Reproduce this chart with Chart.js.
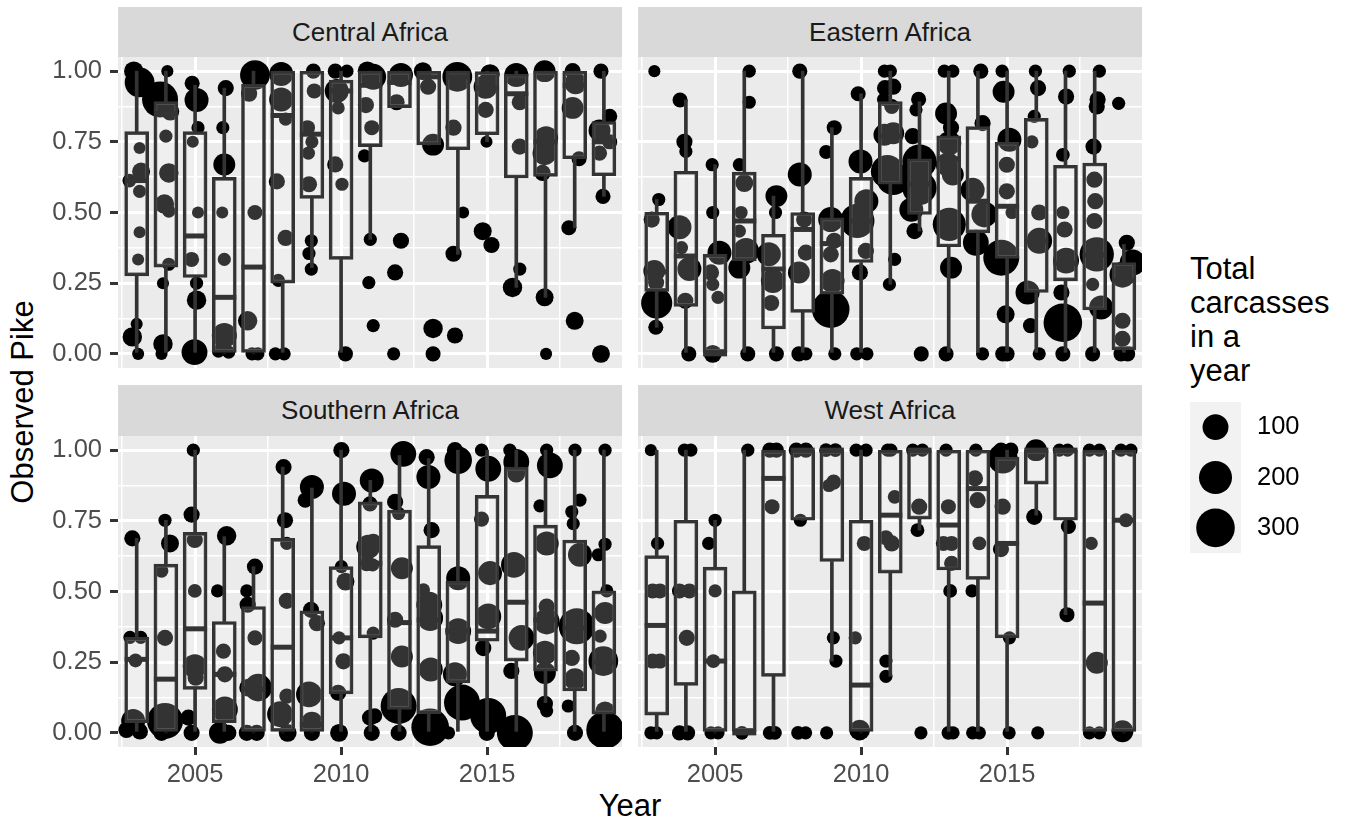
<!DOCTYPE html>
<html>
<head>
<meta charset="utf-8">
<script src="https://cdn.jsdelivr.net/npm/chart.js@4.4.1/dist/chart.umd.min.js"></script>
<style>
  html, body { margin: 0; padding: 0; background: #ffffff; }
  body { width: 1354px; height: 825px; position: relative; overflow: hidden; font-family: "Liberation Sans", Arial, Helvetica, sans-serif; }
  canvas { position: absolute; }
  .strip { position: absolute; background: #D9D9D9; color: #1A1A1A; font-size: 26px; display: flex; align-items: center; justify-content: center; }
  .title { position: absolute; color: #000; font-size: 31px; text-align: center; white-space: nowrap; }
  #legendTitle { position: absolute; left: 1190px; top: 252px; font-size: 31px; line-height: 34px; color: #000; }
</style>
</head>
<body>
<div class="strip" id="s0" style="left:118px;top:7px;width:504px;height:50px;"></div>
<div class="strip" id="s1" style="left:638px;top:7px;width:504px;height:50px;"></div>
<div class="strip" id="s2" style="left:118px;top:385px;width:504px;height:51px;"></div>
<div class="strip" id="s3" style="left:638px;top:385px;width:504px;height:51px;"></div>
<div class="title" id="yTitle" style="left:-177px;top:384px;width:400px;height:36px;line-height:36px;transform:rotate(-90deg);"></div>
<div class="title" id="xTitle" style="left:430px;top:788px;width:400px;height:36px;line-height:36px;"></div>
<div id="legendTitle"></div>

<canvas id="c0" width="612" height="371" style="left:40px;top:27px;"></canvas>
<canvas id="c1" width="564" height="371" style="left:608px;top:27px;"></canvas>
<canvas id="c2" width="612" height="391" style="left:40px;top:406px;"></canvas>
<canvas id="c3" width="564" height="391" style="left:608px;top:406px;"></canvas>
<canvas id="cLegend" width="190" height="231" style="left:1160px;top:362px;"></canvas>

<script>
// ---------------- data ----------------
const years = [2003,2004,2005,2006,2007,2008,2009,2010,2011,2012,2013,2014,2015,2016,2017,2018,2019];
const regionNames = ['Central Africa','Eastern Africa','Southern Africa','West Africa'];
const xTitle = 'Year';
const yTitle = 'Observed Pike';
const legendTitleLines = ['Total','carcasses','in a','year'];
const legendValues = [100, 200, 300];
const sizeDomain = [1, 300];

const xMin = 2002.36, xMax = 2019.62;
const yMin = -0.05, yMax = 1.05;
const xTickValues = [2002.5, 2005, 2007.5, 2010, 2012.5, 2015, 2017.5];
const xLabelValues = [2005, 2010, 2015];
const yTickValues = [0, 0.125, 0.25, 0.375, 0.5, 0.625, 0.75, 0.875, 1];
const yLabelValues = [0, 0.25, 0.5, 0.75, 1];

// box stats per year: [lower whisker, Q1, median, Q3, upper whisker]
const centralBox = [
  [0,0.276,0.613,0.786,1],[0,0.307,0.85,0.892,1],[0,0.27,0.417,0.786,0.95],[0,0,0.2,0.624,0.94],
  [0,0,0.307,0.953,1],[0,0.25,0.843,1,1],[0.305,0.55,0.777,1,1],[0,0.334,0.93,0.968,1],
  [0.405,0.733,0.95,1,1],[0.871,0.871,0.96,1,1],[0.739,0.739,0.98,1,1],[0.352,0.722,0.98,1,1],
  [0.75,0.775,0.94,0.998,1],[0.235,0.622,0.92,0.99,1],[0.2,0.628,0.75,1,1],[0.446,0.69,0.95,1,1],
  [0.557,0.63,0.75,0.822,1]
];
const easternBox = [
  [0.094,0.221,0.29,0.501,0.546],[0,0.168,0.346,0.646,0.898],[0,0,0,0.352,0.669],[0,0.329,0.47,0.643,1],
  [0,0.088,0.3,0.423,0.558],[0,0.147,0.44,0.5,1],[0,0.211,0.39,0.481,0.8],[0,0.323,0.47,0.624,0.92],
  [0.246,0.6,0.77,0.892,1],[0.434,0.493,0.6,0.69,0.892],[0,0.378,0.69,0.771,1],[0,0.428,0.54,0.804,1],
  [0,0.338,0.522,0.749,1],[0,0.217,0.4,0.833,1],[0,0.258,0.32,0.667,1],[0,0.155,0.35,0.675,1],
  [0,0.014,0.26,0.323,0.387]
];
const southernBox = [
  [0,0.036,0.26,0.338,0.688],[0,0,0.19,0.597,0.752],[0,0.154,0.368,0.709,1],[0,0.036,0.207,0.394,0.694],
  [0,0,0.155,0.447,0.588],[0,0,0.303,0.688,0.94],[0,0,0.03,0.432,0.866],[0,0.138,0.336,0.588,1],
  [0,0.336,0.6,0.817,0.893],[0,0.083,0.39,0.788,0.981],[0,0.068,0.4,0.662,0.97],[0,0.177,0.36,0.537,1],
  [0,0.324,0.36,0.84,1],[0,0.254,0.462,0.94,1],[0.107,0.218,0.4,0.735,1],[0,0.148,0.37,0.682,1],
  [0,0.066,0.25,0.502,1]
];
const westBox = [
  [0,0.063,0.38,0.627,1],[0,0.168,0.502,0.752,1],[0,0,0.254,0.586,0.752],[0,0,0,0.502,1],
  [0,0.2,0.9,1,1],[0.752,0.752,1,1,1],[0.254,0.606,1,1,1],[0,0,0.169,0.752,1],
  [0.2,0.565,0.77,1,1],[0.717,0.756,1,1,1],[0,0.576,0.735,1,1],[0,0.543,0.864,1,1],
  [0,0.336,0.67,0.975,1],[0.77,0.88,1,1,1],[0.418,0.752,1,1,1],[0,0,0.459,1,1],
  [0,0,0.752,1,1]
];

// jittered observations: [year (jittered), observed pike, total carcasses]
const centralPoints = [
  [2002.9,1,40],[2003.1,0.96,150],[2003.1,0.728,5],[2003.15,0.645,30],[2002.75,0.613,10],[2003.1,0.575,8],[2003.1,0.43,5],[2003.05,0.334,5],[2003,0.106,5],[2002.85,0.06,40],[2003.05,0,5],
  [2004.05,1,5],[2003.8,0.9,250],[2004.15,0.857,30],[2004,0.77,8],[2004.1,0.64,40],[2003.95,0.53,40],[2004.1,0.505,8],[2004.1,0.317,8],[2003.9,0.25,5],[2003.9,0.035,40],[2003.85,0,5],
  [2004.9,0.957,15],[2005.05,0.898,80],[2005.1,0.8,8],[2004.92,0.75,5],[2005.1,0.5,5],[2004.88,0.334,15],[2005.05,0.25,8],[2005.05,0.19,40],[2004.98,0.006,100],
  [2006.05,0.94,20],[2005.95,0.8,8],[2006,0.67,60],[2005.93,0.5,5],[2006,0.334,8],[2006,0.065,90],[2006.15,0.006,8],[2005.8,0.01,8],
  [2007.05,0.986,150],[2006.85,0.92,20],[2007.05,0.5,15],[2006.8,0.117,40],[2006.95,0,8],[2007.15,0,8],
  [2007.95,0.99,80],[2007.95,0.9,80],[2008.1,0.83,8],[2007.8,0.61,20],[2008.1,0.41,20],[2007.85,0.26,8],[2007.75,0,8],[2008.05,0,8],
  [2009.05,1,15],[2009.08,0.93,15],[2008.85,0.8,15],[2009,0.75,8],[2008.88,0.71,8],[2008.9,0.6,20],[2008.98,0.4,8],[2008.9,0.355,8],[2008.98,0.3,8],
  [2009.8,1,15],[2010.2,1,8],[2009.85,0.93,80],[2009.9,0.87,8],[2009.8,0.67,20],[2010.03,0.6,8],[2010.15,0,15],
  [2010.9,1,40],[2011.1,0.98,100],[2010.85,0.88,20],[2011.05,0.8,15],[2010.8,0.7,8],[2011,0.405,8],[2010.95,0.252,8],[2011.1,0.1,8],
  [2012.05,0.986,80],[2011.9,0.89,20],[2012.05,0.4,20],[2011.85,0.288,20],[2011.8,0,8],
  [2012.8,1,30],[2012.98,0.945,20],[2013.15,0.74,60],[2013.15,0.09,40],[2013.15,0,15],
  [2013.98,0.98,150],[2013.85,0.8,20],[2014.18,0.5,5],[2013.85,0.354,20],[2013.9,0.065,20],
  [2015.1,0.99,40],[2014.95,0.945,80],[2014.95,0.863,20],[2014.98,0.75,5],[2014.85,0.434,30],[2015.15,0.385,20],
  [2016,0.986,80],[2016.12,0.89,20],[2016.12,0.733,20],[2016.12,0.3,8],[2015.87,0.235,40],
  [2016.97,1,60],[2017.02,0.763,80],[2016.97,0.71,80],[2016.9,0.64,20],[2016.97,0.2,30],[2017.02,0,5],
  [2017.93,1,20],[2018.03,0.957,60],[2017.93,0.87,60],[2018.15,0.69,15],[2017.8,0.446,15],[2018,0.117,30],
  [2018.9,1,15],[2018.85,0.79,60],[2019.2,0.84,15],[2019.2,0.75,15],[2018.85,0.71,15],[2018.97,0.557,15],[2018.9,0,30]
];
const easternPoints = [
  [2002.92,1,5],[2003.07,0.546,8],[2002.83,0.475,20],[2002.92,0.293,60],[2002.98,0.252,20],[2003,0.18,170],[2002.97,0.094,15],
  [2003.8,0.898,15],[2003.95,0.75,20],[2004,0.716,8],[2003.78,0.448,80],[2003.85,0.376,8],[2004.12,0.3,80],[2003.98,0.188,20],[2004.1,0,15],
  [2004.9,0.669,8],[2004.92,0.5,8],[2005.15,0.358,80],[2004.86,0.288,20],[2004.92,0.246,8],[2005.1,0.2,8],[2004.92,0,30],
  [2006.17,1,8],[2006.17,0.89,8],[2005.83,0.669,8],[2006,0.604,30],[2005.89,0.5,8],[2005.83,0.434,8],[2006.06,0.364,100],[2005.83,0.305,60],[2006.12,0,15],
  [2007.1,0.558,60],[2007.07,0.5,8],[2006.84,0.352,80],[2006.98,0.258,80],[2006.92,0.18,20],[2007.1,0,15],
  [2007.9,1,15],[2007.9,0.634,80],[2008.05,0.475,20],[2008.11,0.358,20],[2007.87,0.288,60],[2007.87,0,15],[2008.11,0,8],
  [2009.08,0.8,15],[2008.8,0.714,10],[2008.96,0.475,90],[2009.08,0.4,20],[2008.96,0.352,20],[2009.02,0.258,80],[2008.96,0.158,280],[2009.1,0,8],
  [2009.9,0.92,15],[2009.98,0.68,80],[2010.18,0.54,80],[2009.87,0.47,220],[2010.16,0.364,20],[2009.96,0.288,20],[2009.85,0,8],[2010.2,0,8],
  [2010.8,1,8],[2011,1,8],[2011.1,0.945,20],[2010.82,0.94,20],[2010.77,0.9,8],[2011.05,0.875,15],[2010.8,0.775,60],[2011.1,0.78,60],[2010.9,0.645,200],[2011.1,0.62,200],[2011.15,0.334,8],[2010.97,0.246,8],
  [2011.97,0.9,15],[2011.88,0.863,8],[2011.77,0.77,20],[2012,0.68,220],[2012,0.587,220],[2011.72,0.51,80],[2011.83,0.434,20],[2012.06,0,15],
  [2012.85,1,8],[2013.14,1,8],[2012.91,0.85,60],[2013.08,0.8,20],[2013.02,0.745,80],[2012.97,0.67,80],[2013.14,0.634,60],[2013.02,0.458,200],[2013.08,0.305,60],[2012.91,0,15],
  [2014.1,1,15],[2014.16,0.816,20],[2013.82,0.58,80],[2014.22,0.493,100],[2013.93,0.393,100],[2014.16,0,8],
  [2014.83,1,8],[2014.88,0.927,60],[2015.08,0.757,80],[2014.99,0.669,20],[2014.99,0.575,20],[2015.17,0.5,8],[2014.8,0.34,250],[2014.95,0.14,30],[2014.85,0,15],[2015,0,15],
  [2015.97,1,8],[2016.06,0.94,20],[2015.93,0.84,8],[2015.85,0.75,8],[2016.1,0.5,20],[2016.1,0.4,100],[2015.7,0.217,80],[2015.8,0.1,15],[2016.1,0,8],
  [2017.13,1,8],[2017.02,0.91,20],[2016.91,0.704,10],[2016.91,0.5,8],[2016.97,0.44,20],[2017.02,0.33,100],[2016.86,0.217,20],[2016.91,0.11,300],[2016.91,0,15],
  [2018.16,1,8],[2018.1,0.9,20],[2018.07,0.875,20],[2017.96,0.733,20],[2017.99,0.616,20],[2018.02,0.54,20],[2017.99,0.47,20],[2018.07,0.352,220],[2017.93,0.246,8],[2018.22,0.164,80],[2017.93,0,15],
  [2018.82,0.886,8],[2019.1,0.393,20],[2019.3,0.323,100],[2018.95,0.28,100],[2018.95,0.117,20],[2018.95,0.053,20],[2018.9,0,15],[2019.13,0,15]
];
const southernPoints = [
  [2002.85,0.688,20],[2002.77,0.338,8],[2003.14,0.338,8],[2002.96,0.256,10],[2002.88,0.042,80],[2002.65,0.01,20],[2003.11,0.005,20],
  [2003.97,0.752,8],[2004.14,0.67,30],[2003.85,0.573,10],[2003.97,0.336,20],[2003.97,0.042,250],[2003.85,0,20],
  [2004.94,1,8],[2004.88,0.772,20],[2004.99,0.682,20],[2004.99,0.502,10],[2004.99,0.236,80],[2005.02,0.195,20],[2004.77,0.054,20],[2004.88,0,20],
  [2006.08,0.697,40],[2005.77,0.502,8],[2005.97,0.289,15],[2006.02,0.207,20],[2006.02,0.083,100],[2005.85,0,60],[2006.14,0,20],
  [2007.05,0.588,20],[2006.77,0.502,8],[2006.8,0.453,20],[2007.05,0.336,15],[2007.16,0.16,120],[2006.82,0.16,30],[2006.77,0,20],[2007.11,0,20],
  [2008.03,0.94,20],[2008.08,0.752,20],[2008.14,0.67,8],[2008.14,0.467,20],[2008.14,0.13,15],[2007.91,0.066,100],[2008.17,0,30],
  [2009,0.87,80],[2008.77,0.823,15],[2008.97,0.435,20],[2009.17,0.388,20],[2008.9,0.136,100],[2009,0.036,60],[2009,0,20],
  [2010.01,1,20],[2010.1,0.846,80],[2010.01,0.588,8],[2010.15,0.535,30],[2009.93,0.336,8],[2010.08,0.253,20],[2009.9,0.142,20],[2009.93,0,30],
  [2011.05,0.893,80],[2010.99,0.81,15],[2010.93,0.658,80],[2010.88,0.6,20],[2011.1,0.676,20],[2011.08,0.594,8],[2011.1,0.353,8],[2010.99,0.054,20],[2011.15,0.06,15],[2011.05,0,20],
  [2012.13,0.987,100],[2011.85,0.817,20],[2011.97,0.776,8],[2012.08,0.582,60],[2011.85,0.4,20],[2012.08,0.27,60],[2011.97,0.095,250],[2011.97,0,20],
  [2012.93,0.975,20],[2012.99,0.905,80],[2013.1,0.717,20],[2012.82,0.506,8],[2013.02,0.453,100],[2013.05,0.406,100],[2013.07,0.224,80],[2013.05,0.02,280],
  [2013.9,1,20],[2014.01,0.964,120],[2014.01,0.547,80],[2014.01,0.36,100],[2013.9,0.207,80],[2014.14,0.107,250],[2013.68,0,8],
  [2014.81,1,8],[2015.04,0.934,100],[2014.81,0.756,15],[2015.1,0.565,80],[2015.04,0.412,100],[2014.87,0.3,20],[2015.04,0.06,250],[2014.99,0,20],
  [2015.78,1,8],[2016,0.958,100],[2016,0.917,30],[2015.92,0.594,100],[2016.18,0.336,100],[2015.83,0.219,20],[2015.95,0,250],
  [2017.04,1,8],[2017.15,0.946,100],[2016.81,0.803,8],[2017.04,0.67,80],[2017.04,0.447,20],[2017.04,0.394,100],[2016.98,0.283,80],[2016.98,0.212,60],[2016.98,0.103,20],[2017.04,0.078,8],
  [2018.01,1,8],[2018.18,0.823,8],[2017.9,0.782,8],[2017.95,0.74,8],[2018.18,0.63,80],[2018.07,0.377,250],[2017.9,0.265,20],[2018.01,0.19,60],[2017.78,0.095,8],[2018.01,0,20],
  [2019.04,1,8],[2019.04,0.667,8],[2018.81,0.63,8],[2019.1,0.502,8],[2019.04,0.424,60],[2018.87,0.342,8],[2018.98,0.254,150],[2019.04,0.077,40],[2019.04,0.01,280]
];
const westPoints = [
  [2002.8,1,5],[2003.03,0.67,8],[2002.86,0.502,15],[2003.11,0.502,15],[2002.86,0.254,15],[2003.11,0.254,15],[2002.8,0,8],[2003,0,8],
  [2003.95,1,8],[2004.17,1,8],[2003.78,0.502,15],[2004.12,0.502,15],[2004.03,0.336,20],[2003.78,0,15],[2004.06,0,15],
  [2005,0.752,8],[2004.78,0.67,8],[2005,0.502,8],[2004.94,0.254,10],[2004.86,0,8],[2005.1,0,8],
  [2006.12,1,8],[2005.92,0,10],
  [2006.87,1,15],[2007.1,1,15],[2006.95,0.8,15],[2006.87,0,10],[2007.05,0,10],
  [2007.78,1,15],[2008.11,1,15],[2007.92,0.752,8],[2007.84,0,10],[2008.1,0,8],
  [2008.8,1,10],[2009.12,1,10],[2009.06,0.887,15],[2008.9,0.875,8],[2009.05,0.336,8],[2009.14,0.254,8],[2008.82,0,8],
  [2009.83,1,8],[2010.17,1,8],[2010.11,0.67,15],[2009.8,0.336,8],[2009.95,0.01,50],
  [2010.91,1,8],[2011.02,1,8],[2011.15,0.835,10],[2010.85,0.69,15],[2011.05,0.67,20],[2010.85,0.254,8],[2010.85,0.2,8],
  [2011.77,1,8],[2012.1,1,8],[2011.99,0.8,20],[2011.93,0.717,10],[2012.05,0,8],
  [2012.91,1,8],[2012.99,0.8,15],[2012.82,0.67,15],[2013.1,0.67,15],[2013.1,0.6,15],[2013.05,0.502,10],[2012.99,0,10],[2013.15,0,8],
  [2013.93,1,8],[2013.9,0.9,20],[2013.99,0.823,20],[2014.05,0.67,10],[2013.8,0.502,8],[2013.82,0,8],[2014.05,0,8],
  [2014.79,1,15],[2015.13,1,15],[2014.85,0.97,150],[2014.85,0.8,20],[2014.79,0.65,20],[2015.08,0.336,8],[2015.07,0,8],
  [2015.99,1,60],[2015.93,0.764,20],[2016.05,0,8],
  [2016.79,1,8],[2017.07,1,8],[2017.1,0.73,15],[2017.05,0.418,15],
  [2017.82,1,8],[2018.16,1,8],[2017.88,0.67,8],[2018.07,0.248,60],[2017.82,0,8],[2018.16,0,8],
  [2018.9,1,8],[2019.24,1,8],[2019.07,0.752,10],[2018.95,0.006,60]
];

// ---------------- styling / helpers ----------------
const FONT = '"Liberation Sans", Arial, Helvetica, sans-serif';
Chart.defaults.font.family = FONT;
Chart.defaults.animation = false;

function radiusFor(t) {
  const f = Math.sqrt(Math.max(0, (t - sizeDomain[0]) / (sizeDomain[1] - sizeDomain[0])));
  return 4.3 + 15 * f;
}

const panelBg = {
  id: 'panelBg',
  beforeDraw(chart, args, opts) {
    const a = chart.chartArea;
    const ctx = chart.ctx;
    ctx.save();
    ctx.fillStyle = opts.color || '#EBEBEB';
    ctx.fillRect(a.left, a.top, a.right - a.left, a.bottom - a.top);
    ctx.restore();
  }
};

function buildDatasets(box, pts) {
  const boxData = years.map((yr, i) => ({x: yr, y: [box[i][1], box[i][3]]}));
  const lowData = years.map((yr, i) => ({x: yr, y: [box[i][0], box[i][1]]}));
  const highData = years.map((yr, i) => ({x: yr, y: [box[i][3], box[i][4]]}));
  const medData = years.map((yr, i) => ({x: yr, y: box[i][2]}));
  const ptData = pts.map(p => ({x: p[0], y: p[1], t: p[2]}));
  return [
    {type: 'scatter', data: ptData, order: 4, clip: 0,
     pointRadius: c => (c.raw ? radiusFor(c.raw.t) : 4),
     pointBackgroundColor: '#000000', pointBorderWidth: 0, pointBorderColor: '#000000'},
    {type: 'bar', data: lowData, order: 3, grouped: false, barThickness: 3, clip: 0,
     backgroundColor: '#333333', borderWidth: 0},
    {type: 'bar', data: highData, order: 3, grouped: false, barThickness: 3, clip: 0,
     backgroundColor: '#333333', borderWidth: 0},
    {type: 'bar', data: boxData, order: 2, grouped: false, barThickness: 24, clip: 0,
     backgroundColor: 'rgba(255,255,255,0.2)', borderColor: '#333333', borderWidth: 3, borderSkipped: false},
    {type: 'scatter', data: medData, order: 1, clip: 0, pointStyle: 'line', pointRadius: 12,
     pointBorderColor: '#333333', pointBorderWidth: 5, borderColor: '#333333'}
  ];
}

function makePanel(canvasId, box, pts, showX, showY, padding) {
  const isMajorX = v => xLabelValues.includes(v);
  const isMajorY = v => yLabelValues.includes(v);
  return new Chart(document.getElementById(canvasId), {
    type: 'scatter',
    data: {datasets: buildDatasets(box, pts)},
    plugins: [panelBg],
    options: {
      responsive: false,
      devicePixelRatio: 1,
      events: [],
      layout: {padding: padding},
      plugins: {legend: {display: false}, tooltip: {enabled: false}, panelBg: {color: '#EBEBEB'}},
      scales: {
        x: {
          type: 'linear', min: xMin, max: xMax, offset: false, bounds: 'data',
          afterBuildTicks: s => { s.ticks = xTickValues.map(v => ({value: v})); },
          afterFit: s => { s.height = showX ? 50 : 0; },
          border: {display: false},
          grid: {
            offset: false, color: '#FFFFFF', drawTicks: showX, tickLength: 8,
            lineWidth: c => (c.tick && isMajorX(c.tick.value)) ? 3 : 1.5,
            tickColor: c => (c.tick && isMajorX(c.tick.value)) ? '#333333' : 'rgba(0,0,0,0)',
            tickWidth: 3
          },
          ticks: {
            display: showX, autoSkip: false, maxRotation: 0, minRotation: 0, padding: 5,
            color: '#4D4D4D', font: {size: 25.5, family: FONT},
            callback: v => isMajorX(v) ? String(v) : ''
          }
        },
        y: {
          type: 'linear', min: yMin, max: yMax, bounds: 'data',
          afterBuildTicks: s => { s.ticks = yTickValues.map(v => ({value: v})); },
          afterFit: s => { s.width = showY ? 78 : 0; },
          border: {display: false},
          grid: {
            color: '#FFFFFF', drawTicks: showY, tickLength: 8,
            lineWidth: c => (c.tick && isMajorY(c.tick.value)) ? 3 : 1.5,
            tickColor: c => (c.tick && isMajorY(c.tick.value)) ? '#333333' : 'rgba(0,0,0,0)',
            tickWidth: 3
          },
          ticks: {
            display: showY, autoSkip: false, padding: 8,
            color: '#4D4D4D', font: {size: 25.5, family: FONT},
            callback: v => isMajorY(v) ? v.toFixed(2) : ''
          }
        }
      }
    }
  });
}

makePanel('c0', centralBox, centralPoints, false, true, {top: 30, bottom: 30, left: 0, right: 30});
makePanel('c1', easternBox, easternPoints, false, false, {top: 30, bottom: 30, left: 30, right: 30});
makePanel('c2', southernBox, southernPoints, true, true, {top: 30, bottom: 0, left: 0, right: 30});
makePanel('c3', westBox, westPoints, true, false, {top: 30, bottom: 0, left: 30, right: 30});

// size legend
new Chart(document.getElementById('cLegend'), {
  type: 'scatter',
  data: {datasets: [{
    data: legendValues.map((v, i) => ({x: 0, y: i + 1, t: v})),
    pointRadius: c => (c.raw ? radiusFor(c.raw.t) : 4),
    pointBackgroundColor: '#000000', pointBorderWidth: 0, clip: false
  }]},
  plugins: [panelBg],
  options: {
    responsive: false, devicePixelRatio: 1, events: [],
    layout: {padding: {top: 40, bottom: 40, left: 30, right: 0}},
    plugins: {legend: {display: false}, tooltip: {enabled: false}, panelBg: {color: '#F2F2F2'}},
    scales: {
      x: {type: 'linear', min: -1, max: 1, display: false},
      y: {
        type: 'linear', min: 0.5, max: 3.5, reverse: true, position: 'right', bounds: 'data',
        afterBuildTicks: s => { s.ticks = legendValues.map((v, i) => ({value: i + 1})); },
        afterFit: s => { s.width = 109; },
        border: {display: false},
        grid: {display: false, drawTicks: false},
        ticks: {padding: 16, color: '#000000', font: {size: 25.5, family: FONT},
                callback: v => String(legendValues[v - 1])}
      }
    }
  }
});

// text elements
['s0','s1','s2','s3'].forEach((id, i) => { document.getElementById(id).textContent = regionNames[i]; });
document.getElementById('xTitle').textContent = xTitle;
document.getElementById('yTitle').textContent = yTitle;
document.getElementById('legendTitle').innerHTML = legendTitleLines.join('<br>');
</script>
</body>
</html>
